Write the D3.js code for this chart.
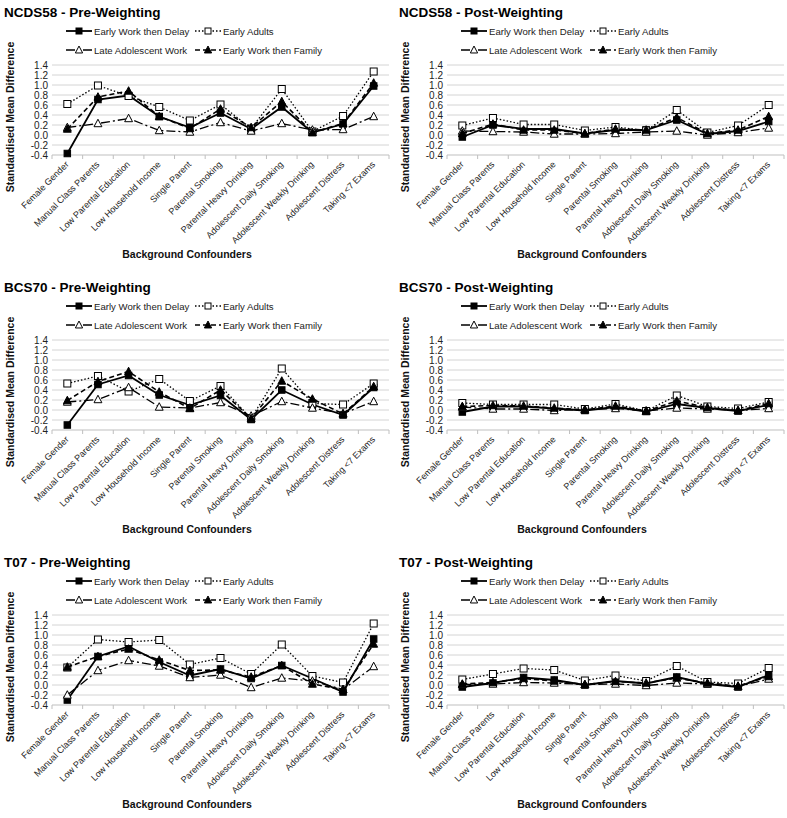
<!DOCTYPE html>
<html>
<head>
<meta charset="utf-8">
<script src="https://cdn.jsdelivr.net/npm/d3@7"></script>
<style>
  body { margin: 0; background: #fff; }
  text { font-family: Arial, "Liberation Sans", sans-serif; }
</style>
</head>
<body>
<script>
// categories & series names
const cats = ["Female Gender", "Manual Class Parents", "Low Parental Education", "Low Household Income",
  "Single Parent", "Parental Smoking", "Parental Heavy Drinking", "Adolescent Daily Smoking",
  "Adolescent Weekly Drinking", "Adolescent Distress", "Taking <7 Exams"];
const seriesNames = ["Early Work then Delay", "Early Adults", "Late Adolescent Work", "Early Work then Family"];
const yTicks = [-0.4, -0.2, 0.0, 0.2, 0.4, 0.6, 0.8, 1.0, 1.2, 1.4];
const panelTitles = ["NCDS58 - Pre-Weighting", "NCDS58 - Post-Weighting", "BCS70 - Pre-Weighting",
  "BCS70 - Post-Weighting", "T07 - Pre-Weighting", "T07 - Post-Weighting"];

// NCDS58 pre
const ncdsPreDelay  = [-0.37, 0.71, 0.79, 0.37, 0.15, 0.44, 0.12, 0.56, 0.05, 0.22, 0.98];
const ncdsPreAdults = [0.62, 0.99, 0.78, 0.56, 0.29, 0.61, 0.13, 0.92, 0.07, 0.38, 1.27];
const ncdsPreLate   = [0.15, 0.23, 0.33, 0.09, 0.06, 0.25, 0.08, 0.23, 0.10, 0.11, 0.37];
const ncdsPreFamily = [0.12, 0.76, 0.88, 0.37, 0.13, 0.52, 0.15, 0.67, 0.05, 0.23, 1.04];
// NCDS58 post
const ncdsPostDelay  = [-0.04, 0.20, 0.12, 0.12, 0.03, 0.10, 0.10, 0.30, 0.02, 0.08, 0.27];
const ncdsPostAdults = [0.19, 0.34, 0.21, 0.21, 0.09, 0.16, 0.09, 0.50, 0.05, 0.19, 0.60];
const ncdsPostLate   = [0.08, 0.07, 0.06, 0.02, 0.02, 0.03, 0.06, 0.08, 0.00, 0.05, 0.14];
const ncdsPostFamily = [0.03, 0.22, 0.10, 0.10, 0.03, 0.12, 0.10, 0.35, 0.03, 0.10, 0.37];
// BCS70 pre
const bcsPreDelay  = [-0.30, 0.51, 0.69, 0.30, 0.10, 0.29, -0.19, 0.40, 0.11, -0.10, 0.45];
const bcsPreAdults = [0.53, 0.68, 0.37, 0.62, 0.18, 0.48, -0.17, 0.83, 0.13, 0.11, 0.53];
const bcsPreLate   = [0.16, 0.21, 0.45, 0.06, 0.04, 0.15, -0.12, 0.17, 0.04, -0.07, 0.17];
const bcsPreFamily = [0.19, 0.57, 0.77, 0.36, 0.03, 0.40, -0.17, 0.58, 0.22, -0.08, 0.47];
// BCS70 post
const bcsPostDelay  = [-0.04, 0.07, 0.07, 0.03, -0.01, 0.06, -0.03, 0.12, 0.04, -0.02, 0.10];
const bcsPostAdults = [0.14, 0.11, 0.11, 0.11, 0.02, 0.12, -0.02, 0.29, 0.07, 0.03, 0.16];
const bcsPostLate   = [0.06, 0.02, 0.02, -0.01, 0.01, 0.03, -0.02, 0.04, 0.02, -0.01, 0.03];
const bcsPostFamily = [0.07, 0.09, 0.08, 0.04, 0.00, 0.08, -0.02, 0.18, 0.05, -0.01, 0.13];
// T07 pre
const t07PreDelay  = [-0.30, 0.57, 0.77, 0.46, 0.19, 0.32, 0.13, 0.39, 0.13, -0.14, 0.92];
const t07PreAdults = [0.35, 0.91, 0.86, 0.90, 0.41, 0.54, 0.22, 0.81, 0.18, 0.05, 1.23];
const t07PreLate   = [-0.20, 0.29, 0.49, 0.38, 0.15, 0.20, -0.05, 0.14, 0.08, -0.09, 0.37];
const t07PreFamily = [0.36, 0.57, 0.72, 0.50, 0.29, 0.30, 0.16, 0.39, 0.02, -0.09, 0.82];
// T07 post
const t07PostDelay  = [-0.04, 0.04, 0.15, 0.10, 0.00, 0.08, 0.03, 0.16, 0.02, -0.04, 0.20];
const t07PostAdults = [0.11, 0.22, 0.33, 0.30, 0.09, 0.19, 0.08, 0.38, 0.06, 0.03, 0.34];
const t07PostLate   = [0.01, 0.02, 0.05, 0.04, 0.01, 0.02, -0.01, 0.04, 0.02, -0.03, 0.12];
const t07PostFamily = [0.02, 0.05, 0.13, 0.08, 0.01, 0.07, 0.04, 0.14, 0.04, -0.02, 0.17];

const panelData = [
  [ncdsPreDelay, ncdsPreAdults, ncdsPreLate, ncdsPreFamily],
  [ncdsPostDelay, ncdsPostAdults, ncdsPostLate, ncdsPostFamily],
  [bcsPreDelay, bcsPreAdults, bcsPreLate, bcsPreFamily],
  [bcsPostDelay, bcsPostAdults, bcsPostLate, bcsPostFamily],
  [t07PreDelay, t07PreAdults, t07PreLate, t07PreFamily],
  [t07PostDelay, t07PostAdults, t07PostLate, t07PostFamily]
];

// line / marker styles per series
const styles = [
  {dash: null,        width: 1.8, marker: "square",   fill: "#000"},
  {dash: "1.5,2",     width: 1.3, marker: "square",   fill: "#fff"},
  {dash: "9,3,2,3",   width: 1.3, marker: "triangle", fill: "#fff"},
  {dash: "5,3",       width: 1.6, marker: "triangle", fill: "#000"}
];

const W = 787, H = 818;
const fmt = d3.formatLocale({decimal: ".", thousands: ",", grouping: [3], currency: ["", ""], minus: "-"}).format(".1f");

const svg = d3.select("body").append("svg")
  .attr("width", W)
  .attr("height", H);

function drawMarker(sel, type, fill, size) {
  if (type === "square") {
    sel.append("rect")
      .attr("x", -size / 2).attr("y", -size / 2)
      .attr("width", size).attr("height", size)
      .attr("fill", fill).attr("stroke", "#000").attr("stroke-width", 1);
  } else {
    const s = size * 1.1;
    sel.append("path")
      .attr("d", `M0,${-s * 0.6}L${s * 0.55},${s * 0.45}L${-s * 0.55},${s * 0.45}Z`)
      .attr("fill", fill).attr("stroke", "#000").attr("stroke-width", 1);
  }
}

panelData.forEach(function(series, i) {
  const col = i % 2, row = Math.floor(i / 2);
  const ox = col * 395, oy = row * 275;
  const g = svg.append("g").attr("transform", `translate(${ox},${oy})`);

  const x = d3.scaleBand().domain(cats).range([52, 389]);
  const y = d3.scaleLinear().domain([-0.4, 1.4]).range([155, 65]);

  // title
  g.append("text")
    .attr("x", 4).attr("y", 17)
    .attr("font-family", "'Open Sans', sans-serif")
    .attr("font-weight", "bold")
    .attr("font-size", 13.5)
    .attr("fill", "#000")
    .text(panelTitles[i]);

  // legend
  const legPos = [[66, 31], [195, 31], [66, 50], [195, 50]];
  seriesNames.forEach(function(name, k) {
    const lg = g.append("g").attr("transform", `translate(${legPos[k][0]},${legPos[k][1]})`);
    lg.append("line")
      .attr("x1", 0).attr("x2", 26).attr("y1", 0).attr("y2", 0)
      .attr("stroke", "#000")
      .attr("stroke-width", styles[k].width)
      .attr("stroke-dasharray", styles[k].dash);
    drawMarker(lg.append("g").attr("transform", "translate(13,0)"), styles[k].marker, styles[k].fill, 6);
    lg.append("text")
      .attr("x", 28).attr("y", 3.5)
      .attr("font-size", 9.6)
      .attr("fill", "#222")
      .text(name);
  });

  // gridlines
  g.selectAll(".grid")
    .data(yTicks.slice(1))
    .join("line")
    .attr("x1", 52).attr("x2", 389)
    .attr("y1", d => y(d)).attr("y2", d => y(d))
    .attr("stroke", "#d4d4d4").attr("stroke-width", 1);

  // y axis labels
  g.selectAll(".ylab")
    .data(yTicks)
    .join("text")
    .attr("x", 48).attr("y", d => y(d) + 3.5)
    .attr("text-anchor", "end")
    .attr("font-size", 10)
    .attr("fill", "#222")
    .text(d => fmt(d));

  // x axis line and tick marks
  g.append("line")
    .attr("x1", 52).attr("x2", 389)
    .attr("y1", y(-0.4)).attr("y2", y(-0.4))
    .attr("stroke", "#bfbfbf");
  const bounds = cats.map(c => x(c)).concat([389]);
  g.selectAll(".xtick")
    .data(bounds)
    .join("line")
    .attr("x1", d => d).attr("x2", d => d)
    .attr("y1", y(-0.4)).attr("y2", y(-0.4) + 4)
    .attr("stroke", "#bfbfbf");

  // rotated category labels
  g.selectAll(".xlab")
    .data(cats)
    .join("text")
    .attr("transform", d => `translate(${x(d) + x.bandwidth() / 2 + 2},${y(-0.4) + 10}) rotate(-45)`)
    .attr("text-anchor", "end")
    .attr("font-size", 9)
    .attr("fill", "#222")
    .text(d => d);

  // axis titles
  g.append("text")
    .attr("transform", "translate(14,117) rotate(-90)")
    .attr("text-anchor", "middle")
    .attr("font-size", 10.5)
    .attr("font-weight", "bold")
    .attr("fill", "#111")
    .text("Standardised Mean Difference");
  g.append("text")
    .attr("x", 187).attr("y", 258)
    .attr("text-anchor", "middle")
    .attr("font-size", 10.5)
    .attr("font-weight", "bold")
    .attr("fill", "#111")
    .text("Background Confounders");

  // series lines and markers
  const line = d3.line()
    .x((d, j) => x(cats[j]) + x.bandwidth() / 2)
    .y(d => y(d));

  series.forEach(function(vals, k) {
    g.append("path")
      .datum(vals)
      .attr("d", line)
      .attr("fill", "none")
      .attr("stroke", "#000")
      .attr("stroke-width", styles[k].width)
      .attr("stroke-dasharray", styles[k].dash);
    vals.forEach(function(v, j) {
      const mg = g.append("g")
        .attr("transform", `translate(${x(cats[j]) + x.bandwidth() / 2},${y(v)})`);
      drawMarker(mg, styles[k].marker, styles[k].fill, k === 1 ? 7 : 6.5);
    });
  });
});
</script>
</body>
</html>
